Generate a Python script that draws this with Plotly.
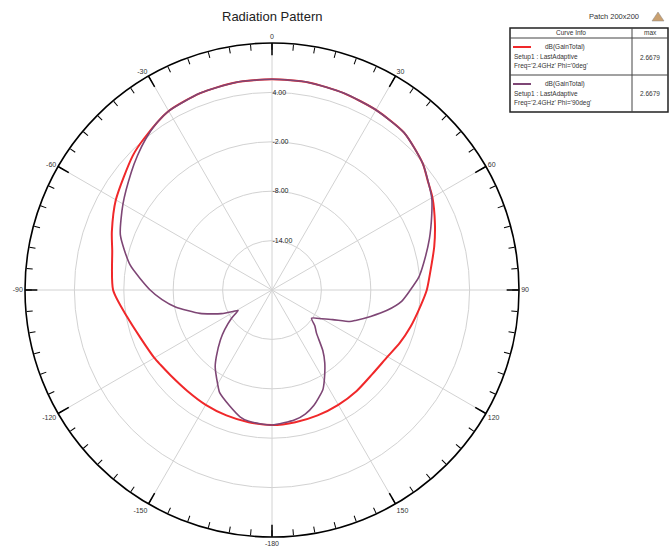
import plotly.graph_objects as go

# Gain patterns, dB(GainTotal) vs theta (deg, clockwise from top)
phi0_theta = [0, 10, 20, 30, 40, 50, 55, 60, 67.6, 75, 84, 90, 96.6, 105, 112.5, 120, 130,
              140, 150, 160, 170, 180, 190, 200, 210, 220, 230, 236, 240, 250, 259.5, 270,
              284, 290, 300, 314, 320, 330, 340, 350, 360]
phi0_gain = [5.6, 5.6, 5.45, 5.25, 4.95, 3.9, 3.1, 2.5, 1.4, 0.4, -0.7, -1.2, -1.9, -2.6, -3.2,
             -3.8, -4.1, -4.0, -3.9, -3.8, -3.7, -3.6, -3.7, -3.8, -3.9, -4.0, -3.9, -3.7, -3.5,
             -3.0, -2.1, -0.7, 0.0, 0.7, 1.9, 3.5, 4.1, 5.1, 5.45, 5.6, 5.6]

phi90_theta = [0, 10, 20, 30, 40, 50, 60, 65, 72, 80, 85, 90, 95, 100, 105, 110, 112, 116, 120,
               125.5, 130, 134, 140, 144, 150, 153, 160, 165, 170, 180, 190, 194, 200, 207, 210,
               216.5, 220, 226, 230, 235, 239, 241, 245, 252, 260, 265, 270, 280, 290, 300,
               310, 315, 320, 325, 330, 340, 350, 360]
phi90_gain = [5.6, 5.6, 5.45, 5.25, 4.95, 3.9, 2.4, 1.4, 0.1, -1.3, -2.1, -3.2, -4.2, -5.8, -7.6,
              -9.2, -9.8, -11.8, -13.0, -14.1, -13.2, -12.5, -10.4, -9.1, -7.3, -6.4, -5.1, -4.4,
              -4.0, -3.6, -3.8, -4.1, -5.0, -6.0, -6.8, -8.4, -9.5, -11.3, -12.5, -14.0, -15.2,
              -14.6, -13.2, -10.8, -8.1, -6.6, -5.2, -2.5, -0.4, 0.9, 2.3, 3.1, 3.9, 4.6, 5.1,
              5.45, 5.6, 5.6]

r_ticks = [-14, -8, -2, 4]
r_ticktext = ["-14.00", "-8.00", "-2.00", "4.00"]
r_range = [-20, 10]
ang_major = [0, 30, 60, 90, 120, 150, 180, 210, 240, 270, 300, 330]
ang_major_text = ["0", "30", "60", "90", "120", "150", "-180", "-150", "-120", "-90", "-60", "-30"]

curve_names = ["dB(GainTotal)", "dB(GainTotal)"]
setup_text = "Setup1 : LastAdaptive"
freq_text = ["Freq='2.4GHz' Phi='0deg'", "Freq='2.4GHz' Phi='90deg'"]
max_text = ["2.6679", "2.6679"]

RED = "#f0282a"
PURPLE = "#7e4675"
GRID = "#d2d2d2"
FONT = "Liberation Sans"

fig = go.Figure()

# spokes every 30 degrees
sp_t, sp_r = [], []
for a in ang_major:
    sp_t += [a, a, None]
    sp_r += [r_range[0], r_range[1], None]
fig.add_trace(go.Scatterpolar(theta=sp_t, r=sp_r, mode="lines",
                              line=dict(color=GRID, width=1), hoverinfo="skip",
                              showlegend=False))

# long ticks at the labelled angles
mt_t, mt_r = [], []
for a in ang_major:
    mt_t += [a, a, None]
    mt_r += [r_range[1], r_range[1] - 1.5, None]
fig.add_trace(go.Scatterpolar(theta=mt_t, r=mt_r, mode="lines",
                              line=dict(color="black", width=1.5), hoverinfo="skip",
                              showlegend=False))

fig.add_trace(go.Scatterpolar(theta=phi0_theta, r=phi0_gain, mode="lines",
                              line=dict(color=RED, width=2, shape="spline", smoothing=0.7),
                              showlegend=False))
fig.add_trace(go.Scatterpolar(theta=phi90_theta, r=phi90_gain, mode="lines",
                              line=dict(color=PURPLE, width=1.6, shape="spline", smoothing=0.6),
                              showlegend=False))

W, H = 670, 554
cx, cy, R = 272, 290, 247

fig.update_layout(
    width=W, height=H,
    margin=dict(l=0, r=0, t=0, b=0),
    paper_bgcolor="white",
    font=dict(family=FONT, color="#333"),
    polar=dict(
        domain=dict(x=[(cx - R) / W, (cx + R) / W], y=[1 - (cy + R) / H, 1 - (cy - R) / H]),
        bgcolor="white",
        angularaxis=dict(rotation=90, direction="clockwise",
                         tickmode="array",
                         tickvals=list(range(0, 360, 5)),
                         ticktext=[ang_major_text[ang_major.index(v)] if v in ang_major else ""
                                   for v in range(0, 360, 5)],
                         ticks="inside", ticklen=6, tickwidth=1, tickcolor="black",
                         showline=True, linecolor="black", linewidth=1.6,
                         showgrid=False,
                         tickfont=dict(size=7, color="#333")),
        radialaxis=dict(range=r_range, tickmode="array", tickvals=r_ticks,
                        ticktext=r_ticktext, showline=False, ticks="",
                        angle=90, tickangle=90, side="clockwise",
                        gridcolor=GRID, gridwidth=1,
                        tickfont=dict(size=7, color="#222")),
    ),
)

def px(x):
    return x / W

def py(y):
    return 1 - y / H

ann = []
ann.append(dict(x=px(272), y=py(17), text="Radiation Pattern", showarrow=False,
                font=dict(size=13, color="#222"), xanchor="center", yanchor="middle"))
ann.append(dict(x=px(641), y=py(17), text="Patch 200x200", showarrow=False,
                font=dict(size=7.5, color="#333"), xanchor="right", yanchor="middle"))

# curve info table
x0, x1, xd = 510, 668, 632
y0, yh, ym, y1 = 28, 38, 75, 112
shapes = [
    dict(type="rect", xref="paper", yref="paper", x0=px(x0), x1=px(x1), y0=py(y1), y1=py(y0),
         line=dict(color="#222", width=1.5), fillcolor="white"),
    dict(type="line", xref="paper", yref="paper", x0=px(x0), x1=px(x1), y0=py(yh), y1=py(yh),
         line=dict(color="#444", width=1)),
    dict(type="line", xref="paper", yref="paper", x0=px(x0), x1=px(x1), y0=py(ym), y1=py(ym),
         line=dict(color="#444", width=1)),
    dict(type="line", xref="paper", yref="paper", x0=px(xd), x1=px(xd), y0=py(y1), y1=py(y0),
         line=dict(color="#444", width=1)),
    # small logo mark next to the project name
    dict(type="path", xref="paper", yref="paper",
         path=f"M {px(652)},{py(21)} L {px(658)},{py(12)} L {px(664)},{py(21)} Z",
         line=dict(color="#888", width=0.5), fillcolor="#c9a070"),
]
ann.append(dict(x=px((x0 + xd) / 2), y=py(33), text="Curve Info", showarrow=False,
                font=dict(size=6.5), xanchor="center", yanchor="middle"))
ann.append(dict(x=px((xd + x1) / 2), y=py(33), text="max", showarrow=False,
                font=dict(size=6.5), xanchor="center", yanchor="middle"))
for i, (col, rowtop) in enumerate([(RED, 40), (PURPLE, 77)]):
    shapes.append(dict(type="line", xref="paper", yref="paper", x0=px(513), x1=px(531),
                       y0=py(rowtop + 7), y1=py(rowtop + 7), line=dict(color=col, width=2)))
    ann.append(dict(x=px(543), y=py(rowtop + 7), text=curve_names[i], showarrow=False,
                    font=dict(size=6.5), xanchor="left", yanchor="middle"))
    ann.append(dict(x=px(512), y=py(rowtop + 17), text=setup_text, showarrow=False,
                    font=dict(size=6.5), xanchor="left", yanchor="middle"))
    ann.append(dict(x=px(512), y=py(rowtop + 26), text=freq_text[i], showarrow=False,
                    font=dict(size=6.5), xanchor="left", yanchor="middle"))
    ann.append(dict(x=px((xd + x1) / 2), y=py(rowtop + 17), text=max_text[i], showarrow=False,
                    font=dict(size=6.5), xanchor="center", yanchor="middle"))

fig.update_layout(annotations=ann, shapes=shapes)
fig.write_html("out.html")
